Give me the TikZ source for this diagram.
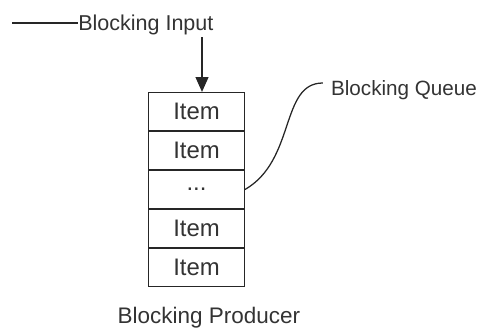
\documentclass[tikz,border=0pt]{standalone}
\usepackage{fontspec}
\setmainfont{Liberation Sans}
\usetikzlibrary{arrows.meta,positioning}
\tikzset{
  itembox/.style={rectangle, draw=black!85, line width=1pt, minimum width=2.39cm,
                  minimum height=0.94cm, inner sep=0pt, font=\fontsize{17}{20}\selectfont,
                  text=black!80},
  lbl/.style={inner sep=0pt, font=\fontsize{15.3}{18}\selectfont, text=black!80},
  feed/.style={-{Triangle[length=0.375cm,width=0.32cm]}, line width=1.4pt, black!85},
}
\begin{document}
\begin{tikzpicture}
  \useasboundingbox (0,0) rectangle (12.05,-8.225);
  % Queue stack
  \node[itembox, anchor=north west] (q1) at (3.7,-2.3) {Item};
  \node[itembox, below=0pt of q1] (q2) {Item};
  \node[itembox, below=0pt of q2] (q3) {...};
  \node[itembox, below=0pt of q3] (q4) {Item};
  \node[itembox, below=0pt of q4] (q5) {Item};
  % Labels
  \node[lbl, anchor=base west] (input) at (1.95,-0.75) {Blocking Input};
  \node[lbl, font=\fontsize{14.7}{18}\selectfont, anchor=base west] (queue) at (8.27,-2.375) {Blocking Queue};
  \node[lbl, font=\fontsize{16}{19}\selectfont, anchor=base] (producer) at (5.225,-8.075) {Blocking Producer};
  % Connectors
  \coordinate (lineend) at (0.3,-0.58);
  \coordinate (feedtop) at (5.05,-0.925);
  \draw[black!85, line width=1pt] (lineend) -- (input.west |- lineend);
  \draw[feed] (feedtop) -- (feedtop |- q1.north);
  \draw[black!85, line width=0.9pt] (q3.east) .. controls (7.4,-4.0) and (7.0,-2.075) .. ([xshift=-0.2cm]queue.west |- 8.075,-2.075);
\end{tikzpicture}
\end{document}
